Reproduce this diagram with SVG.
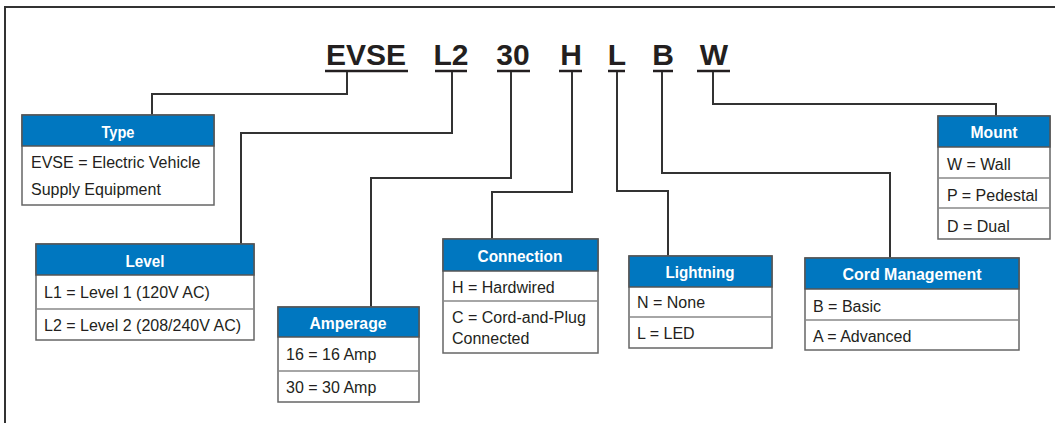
<svg xmlns="http://www.w3.org/2000/svg" width="1055" height="423" viewBox="0 0 1055 423">
<style>
.frame{fill:none;stroke:#333;stroke-width:2}
.title{font-family:"Liberation Sans",Arial,sans-serif;font-weight:bold;font-size:30px;fill:#231f20;text-anchor:middle}
.ul{stroke:#231f20;stroke-width:2.5}
.conn path{fill:none;stroke:#333;stroke-width:2}
.box{fill:#fff;stroke:#666;stroke-width:1.5}
.hdr{fill:#0077c0;stroke:#555;stroke-width:1.5}
.div{stroke:#888;stroke-width:1.5}
.ht{font-family:"Liberation Sans",Arial,sans-serif;font-weight:bold;font-size:17px;fill:#fff;text-anchor:middle}
.bt{font-family:"Liberation Sans",Arial,sans-serif;font-size:16px;fill:#231f20}
</style>
<rect width="1055" height="423" fill="#fff"/>
<path class="frame" d="M5,423 V7 H1055"/>
<g id="code">
<text class="title" x="366" y="65">EVSE</text>
<text class="title" x="451" y="65">L2</text>
<text class="title" x="513" y="65">30</text>
<text class="title" x="571" y="65">H</text>
<text class="title" x="617" y="65">L</text>
<text class="title" x="663" y="65">B</text>
<text class="title" x="714" y="65">W</text>
<line class="ul" x1="325" y1="71" x2="408" y2="71"/>
<line class="ul" x1="435" y1="71" x2="467" y2="71"/>
<line class="ul" x1="497" y1="71" x2="530" y2="71"/>
<line class="ul" x1="559" y1="71" x2="582" y2="71"/>
<line class="ul" x1="608" y1="71" x2="625" y2="71"/>
<line class="ul" x1="653" y1="71" x2="673" y2="71"/>
<line class="ul" x1="697" y1="71" x2="730" y2="71"/>
</g>
<g id="connectors" class="conn">
<path d="M347,72 V94 H152 V115"/>
<path d="M452,72 V133 H241 V244"/>
<path d="M511,72 V178 H371 V307"/>
<path d="M572,72 V192 H492 V239"/>
<path d="M617,72 V191 H668 V256"/>
<path d="M662,72 V173 H890 V258"/>
<path d="M713,72 V104 H996 V116"/>
</g>
<g id="type">
<rect class="box" x="22" y="115" width="192" height="90"/>
<rect class="hdr" x="22" y="115" width="192" height="31"/>
<text class="ht" x="118" y="138" textLength="33" lengthAdjust="spacingAndGlyphs">Type</text>
<text class="bt" x="31" y="168">EVSE = Electric Vehicle</text>
<text class="bt" x="31" y="195">Supply Equipment</text>
</g>
<g id="level">
<rect class="box" x="36" y="244" width="218" height="96"/>
<rect class="hdr" x="36" y="244" width="218" height="31"/>
<line class="div" x1="36" y1="309" x2="254" y2="309"/>
<text class="ht" x="145" y="267" textLength="39" lengthAdjust="spacingAndGlyphs">Level</text>
<text class="bt" x="44" y="298">L1 = Level 1 (120V AC)</text>
<text class="bt" x="44" y="331">L2 = Level 2 (208/240V AC)</text>
</g>
<g id="amperage">
<rect class="box" x="278" y="307" width="141" height="95"/>
<rect class="hdr" x="278" y="307" width="141" height="30"/>
<line class="div" x1="278" y1="371" x2="419" y2="371"/>
<text class="ht" x="348" y="329" textLength="77" lengthAdjust="spacingAndGlyphs">Amperage</text>
<text class="bt" x="286" y="360">16 = 16 Amp</text>
<text class="bt" x="286" y="393">30 = 30 Amp</text>
</g>
<g id="connection">
<rect class="box" x="443" y="239" width="155" height="114"/>
<rect class="hdr" x="443" y="239" width="155" height="32"/>
<line class="div" x1="443" y1="301" x2="598" y2="301"/>
<text class="ht" x="520" y="262" textLength="85" lengthAdjust="spacingAndGlyphs">Connection</text>
<text class="bt" x="452" y="293">H = Hardwired</text>
<text class="bt" x="452" y="323">C = Cord-and-Plug</text>
<text class="bt" x="452" y="344">Connected</text>
</g>
<g id="lightning">
<rect class="box" x="629" y="256" width="143" height="92"/>
<rect class="hdr" x="629" y="256" width="143" height="31"/>
<line class="div" x1="629" y1="317" x2="772" y2="317"/>
<text class="ht" x="700" y="278" textLength="69" lengthAdjust="spacingAndGlyphs">Lightning</text>
<text class="bt" x="637" y="308">N = None</text>
<text class="bt" x="637" y="339">L = LED</text>
</g>
<g id="cord-management">
<rect class="box" x="805" y="258" width="214" height="92"/>
<rect class="hdr" x="805" y="258" width="214" height="31"/>
<line class="div" x1="805" y1="320" x2="1019" y2="320"/>
<text class="ht" x="912" y="280" textLength="139" lengthAdjust="spacingAndGlyphs">Cord Management</text>
<text class="bt" x="813" y="312">B = Basic</text>
<text class="bt" x="813" y="342">A = Advanced</text>
</g>
<g id="mount">
<rect class="box" x="938" y="116" width="112" height="123"/>
<rect class="hdr" x="938" y="116" width="112" height="31"/>
<line class="div" x1="938" y1="178" x2="1050" y2="178"/>
<line class="div" x1="938" y1="208" x2="1050" y2="208"/>
<text class="ht" x="994" y="138" textLength="47" lengthAdjust="spacingAndGlyphs">Mount</text>
<text class="bt" x="947" y="170">W = Wall</text>
<text class="bt" x="947" y="201">P = Pedestal</text>
<text class="bt" x="947" y="232">D = Dual</text>
</g>
</svg>
